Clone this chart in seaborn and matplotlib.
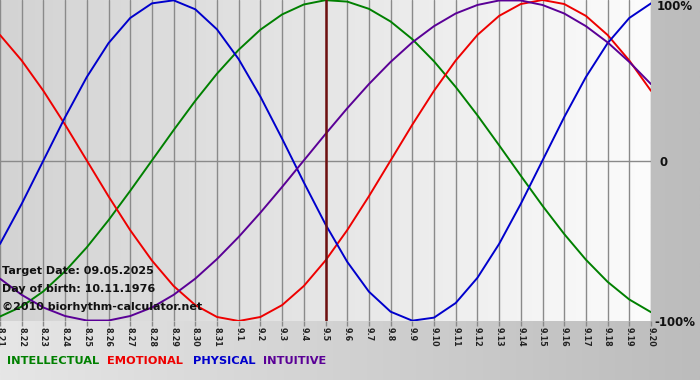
import numpy as np
import pandas as pd
import matplotlib
matplotlib.use("Agg")
import matplotlib.pyplot as plt
from matplotlib.colors import LinearSegmentedColormap
import seaborn as sns

# ---- data (percent values per day) ----
dates = ["8.21", "8.22", "8.23", "8.24", "8.25", "8.26", "8.27", "8.28", "8.29", "8.30", "8.31",
         "9.1", "9.2", "9.3", "9.4", "9.5", "9.6", "9.7", "9.8", "9.9", "9.10",
         "9.11", "9.12", "9.13", "9.14", "9.15", "9.16", "9.17", "9.18", "9.19", "9.20"]
intellectual = [-97.2, -91.0, -81.5, -69.0, -54.1, -37.2, -18.9, 0.0, 18.9, 37.2, 54.1,
                69.0, 81.5, 91.0, 97.2, 99.9, 99.0, 94.5, 86.6, 75.6, 61.8,
                45.8, 28.2, 9.5, -9.5, -28.2, -45.8, -61.8, -75.6, -86.6, -94.5]
emotional = [78.2, 62.3, 43.4, 22.3, 0.0, -22.3, -43.4, -62.3, -78.2, -90.1, -97.5,
             -100.0, -97.5, -90.1, -78.2, -62.3, -43.4, -22.3, 0.0, 22.3, 43.4,
             62.3, 78.2, 90.1, 97.5, 100.0, 97.5, 90.1, 78.2, 62.3, 43.4]
physical = [-52.0, -27.0, 0.0, 27.0, 52.0, 73.1, 88.8, 97.9, 99.8, 94.2, 81.7,
            63.1, 39.8, 13.6, -13.6, -39.8, -63.1, -81.7, -94.2, -99.8, -97.9,
            -88.8, -73.1, -52.0, -27.0, 0.0, 27.0, 52.0, 73.1, 88.8, 97.9]
intuitive = [-73.6, -83.7, -91.6, -96.9, -99.7, -99.7, -96.9, -91.6, -83.7, -73.6, -61.4,
             -47.6, -32.5, -16.5, 0.0, 16.5, 32.5, 47.6, 61.4, 73.6, 83.7,
             91.6, 96.9, 99.7, 99.7, 96.9, 91.6, 83.7, 73.6, 61.4, 47.6]
series_names = ["INTELLECTUAL", "EMOTIONAL", "PHYSICAL", "INTUITIVE"]
target_date = "9.5"
info_lines = ["Target Date: 09.05.2025", "Day of birth: 10.11.1976", "\u00a92010 biorhythm-calculator.net"]
y_labels = ["100%", "0", "-100%"]

colors = {"INTELLECTUAL": "#008000", "EMOTIONAL": "#ee0000",
          "PHYSICAL": "#0000cc", "INTUITIVE": "#5a0096"}

df = pd.DataFrame({
    "day": list(range(len(dates))) * 4,
    "value": intellectual + emotional + physical + intuitive,
    "series": sum([[n] * len(dates) for n in series_names], []),
})

sns.set_theme(style="white")
plt.rcParams["font.family"] = ["DejaVu Sans"]

W, H = 700, 380
fig = plt.figure(figsize=(7, 3.8), dpi=100)

# figure background gradient
bg = fig.add_axes([0, 0, 1, 1], zorder=-10)
bg_cmap = LinearSegmentedColormap.from_list("bg", ["#e6e6e6", "#bcbcbc"])
bg.imshow(np.linspace(0, 1, 256)[None, :], aspect="auto", cmap=bg_cmap,
          extent=[0, 1, 0, 1])
bg.set_axis_off()

# main plot area
left_px, right_px, top_px, bottom_px = 0, 651, 0, 321
ax = fig.add_axes([left_px / W, 1 - bottom_px / H, (right_px - left_px) / W,
                   (bottom_px - top_px) / H])
ax.set_facecolor("none")
n = len(dates)
ax.set_xlim(0, n - 1)
ax.set_ylim(-100, 100)

pa_cmap = LinearSegmentedColormap.from_list("pa", ["#d3d3d3", "#e6e6e6", "#fcfcfc"])
ax.imshow(np.linspace(0, 1, 256)[None, :], aspect="auto", cmap=pa_cmap,
          extent=[0, n - 1, -100, 100], zorder=0)

for i in range(n):
    ax.axvline(i, color="#8a8a8a", lw=1.0, zorder=1)
ax.axhline(0, color="#8a8a8a", lw=1.0, zorder=1)

sns.lineplot(data=df, x="day", y="value", hue="series", hue_order=series_names,
             palette=colors, lw=1.4, legend=False, ax=ax, zorder=3)

ax.axvline(dates.index(target_date), color="#6e1010", lw=1.8, zorder=4)

for s in ax.spines.values():
    s.set_visible(False)
ax.set_xlabel("")
ax.set_ylabel("")
ax.set_yticks([])
ax.set_xticks(range(n))
ax.set_xticklabels(dates, rotation=-90, fontsize=5.8, fontweight="bold", color="#222222")
ax.tick_params(axis="x", bottom=True, length=3.5, width=1, color="#8a8a8a", pad=1)

# right percentage labels
fig.text(657 / W, 1 - 7 / H, y_labels[0], ha="left", va="center",
         fontsize=8.5, fontweight="bold", color="#111111")
fig.text(659 / W, 1 - 162 / H, y_labels[1], ha="left", va="center",
         fontsize=8.5, fontweight="bold", color="#111111")
fig.text(654 / W, 1 - 322 / H, y_labels[2], ha="left", va="center",
         fontsize=8.5, fontweight="bold", color="#111111")

# info text
for line, yp in zip(info_lines, [271, 289, 307]):
    fig.text(2 / W, 1 - yp / H, line, ha="left", va="center",
             fontsize=8.0, fontweight="bold", color="#111111", zorder=10)

# legend text
for name, xp in zip(series_names, [7, 107, 193, 263]):
    fig.text(xp / W, 1 - 361 / H, name, ha="left", va="center",
             fontsize=8.2, fontweight="bold", color=colors[name])

fig.savefig("out.png", dpi=100)
